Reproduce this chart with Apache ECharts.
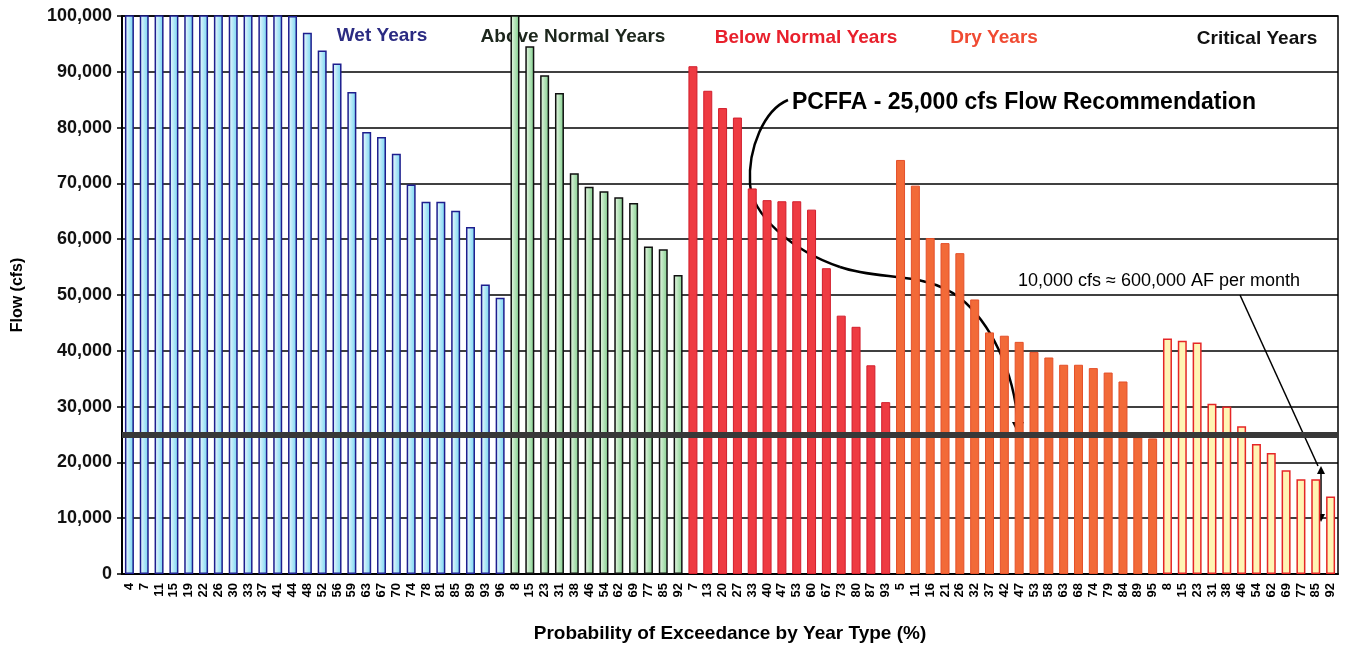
<!DOCTYPE html>
<html>
<head>
<meta charset="utf-8">
<script src="https://cdn.jsdelivr.net/npm/echarts@6/dist/echarts.min.js"></script>
<style>
  html, body { margin: 0; padding: 0; background: #fff; }
  #chart { width: 1348px; height: 649px; }
</style>
</head>
<body>
<div id="chart"></div>
<script>
// exceedance labels (%) per year type
const wetLabels = ["4","7","11","15","19","22","26","30","33","37","41","44","48","52","56","59","63","67","70","74","78","81","85","89","93","96"];
const aboveLabels = ["8","15","23","31","38","46","54","62","69","77","85","92"];
const belowLabels = ["7","13","20","27","33","40","47","53","60","67","73","80","87","93"];
const dryLabels = ["5","11","16","21","26","32","37","42","47","53","58","63","68","74","79","84","89","95"];
const criticalLabels = ["8","15","23","31","38","46","54","62","69","77","85","92"];

// flow (cfs); tall wet bars run off the top of the axis
const wetFlow = [110000,110000,110000,110000,110000,110000,110000,110000,110000,110000,110000,100000,97000,93800,91500,86400,79200,78300,75300,69800,66700,66700,65100,62200,51900,49500];
const aboveFlow = [110000,94600,89400,86200,71800,69400,68600,67500,66500,58700,58200,53600];
const belowFlow = [91000,86600,83500,81800,69100,67000,66800,66800,65300,54800,46300,44300,37400,30800];
const dryFlow = [74200,69600,60200,59300,57500,49200,43300,42700,41600,39800,38800,37500,37500,36900,36100,34500,24500,24300];
const criticalFlow = [42200,41800,41500,30500,30000,26500,23300,21700,18600,17000,17000,13900];

const yTicks = [0,10000,20000,30000,40000,50000,60000,70000,80000,90000,100000];
const recommendation = 25000;

const grad = (a, b) => new echarts.graphic.LinearGradient(0, 0, 1, 0, [
  { offset: 0, color: a }, { offset: 1, color: b }
]);

const groups = [
  { labels: wetLabels, flow: wetFlow, style: { color: grad("#f4fbff", "#6fd3f0"), borderColor: "#1e1e8e", borderWidth: 1.5 } },
  { labels: aboveLabels, flow: aboveFlow, style: { color: grad("#eef9ea", "#7ccd88"), borderColor: "#111", borderWidth: 1.5 } },
  { labels: belowLabels, flow: belowFlow, style: { color: "#ee3b42", borderColor: "#d21e2c", borderWidth: 1 } },
  { labels: dryLabels, flow: dryFlow, style: { color: "#f26a38", borderColor: "#e4502a", borderWidth: 1 } },
  { labels: criticalLabels, flow: criticalFlow, style: { color: "#fff4b4", borderColor: "#e52626", borderWidth: 1.5 } }
];

const categories = [];
const barData = [];
groups.forEach(g => {
  g.labels.forEach((lab, i) => {
    categories.push(lab);
    barData.push({ value: g.flow[i], itemStyle: g.style });
  });
});

const chart = echarts.init(document.getElementById("chart"));

const font = "Liberation Sans, Arial, sans-serif";
const groupTitle = (x, y, text, color) => ({
  type: "text", x, y,
  style: { text, fill: color, font: "bold 19px " + font, align: "center", verticalAlign: "middle" }
});
const curve = (x1, y1, cpx1, cpy1, cpx2, cpy2, x2, y2) => ({
  type: "bezierCurve",
  shape: { x1, y1, cpx1, cpy1, cpx2, cpy2, x2, y2 },
  style: { stroke: "#000", lineWidth: 2.5, fill: null }
});

chart.setOption({
  animation: false,
  backgroundColor: "#fff",
  grid: { left: 122, right: 10, top: 16, bottom: 75, show: true, borderColor: "#000", borderWidth: 1.5 },
  xAxis: {
    type: "category",
    data: categories,
    name: "Probability of Exceedance by Year Type (%)",
    nameLocation: "middle",
    nameGap: 50,
    nameTextStyle: { fontFamily: font, fontWeight: "bold", fontSize: 19, color: "#000" },
    axisLine: { lineStyle: { color: "#000", width: 2 } },
    axisTick: { lineStyle: { color: "#000", width: 1.5 }, length: 5 },
    axisLabel: { interval: 0, rotate: 90, fontFamily: font, fontWeight: "bold", fontSize: 13, color: "#000", margin: 9 }
  },
  yAxis: {
    type: "value",
    min: 0, max: 100000, interval: 10000,
    name: "Flow (cfs)",
    nameLocation: "middle",
    nameGap: 96,
    nameTextStyle: { fontFamily: font, fontWeight: "bold", fontSize: 16, color: "#000" },
    axisLine: { show: true, lineStyle: { color: "#000", width: 2 } },
    axisTick: { show: true, lineStyle: { color: "#000", width: 1.5 }, length: 5 },
    axisLabel: {
      fontFamily: font, fontWeight: "bold", fontSize: 18, color: "#111", margin: 10,
      formatter: v => yTicks.includes(v) ? v.toLocaleString("en-US") : ""
    },
    splitLine: { lineStyle: { color: "#000", width: 1.5 } }
  },
  series: [{
    type: "bar",
    data: barData,
    barWidth: 9,
    markLine: {
      silent: true,
      symbol: ["none", "none"],
      label: { show: false },
      lineStyle: { color: "#383838", width: 6, type: "solid" },
      data: [{ yAxis: recommendation }]
    }
  }],
  graphic: [
    groupTitle(382, 36, "Wet Years", "#2b2b82"),
    groupTitle(573, 37, "Above Normal Years", "#1c261c"),
    groupTitle(806, 38, "Below Normal Years", "#e8202c"),
    groupTitle(994, 38, "Dry Years", "#f04a32"),
    groupTitle(1257, 39, "Critical Years", "#111"),
    {
      type: "text", x: 792, y: 103,
      style: { text: "PCFFA - 25,000 cfs Flow Recommendation", fill: "#000", font: "bold 23px " + font, verticalAlign: "middle" }
    },
    curve(788, 100, 764, 110, 748, 148, 750, 184),
    curve(750, 184, 752, 214, 790, 250, 840, 267),
    curve(840, 267, 880, 281, 926, 271, 960, 298),
    curve(960, 298, 990, 322, 1014, 370, 1018, 424),
    {
      type: "polygon",
      shape: { points: [[1012, 422], [1024, 422], [1018, 434]] },
      style: { fill: "#000" }
    },
    {
      type: "text", x: 1018, y: 281,
      style: { text: "10,000 cfs \u2248 600,000 AF per month", fill: "#000", font: "18px " + font, verticalAlign: "middle" }
    },
    {
      type: "line",
      shape: { x1: 1240, y1: 295, x2: 1318, y2: 466 },
      style: { stroke: "#000", lineWidth: 1.5 }
    },
    {
      type: "line",
      shape: { x1: 1321, y1: 472, x2: 1321, y2: 516 },
      style: { stroke: "#000", lineWidth: 1.5 }
    },
    {
      type: "polygon",
      shape: { points: [[1317, 474], [1325, 474], [1321, 466]] },
      style: { fill: "#000" }
    },
    {
      type: "polygon",
      shape: { points: [[1317, 514], [1325, 514], [1321, 522]] },
      style: { fill: "#000" }
    }
  ]
});
</script>
</body>
</html>
